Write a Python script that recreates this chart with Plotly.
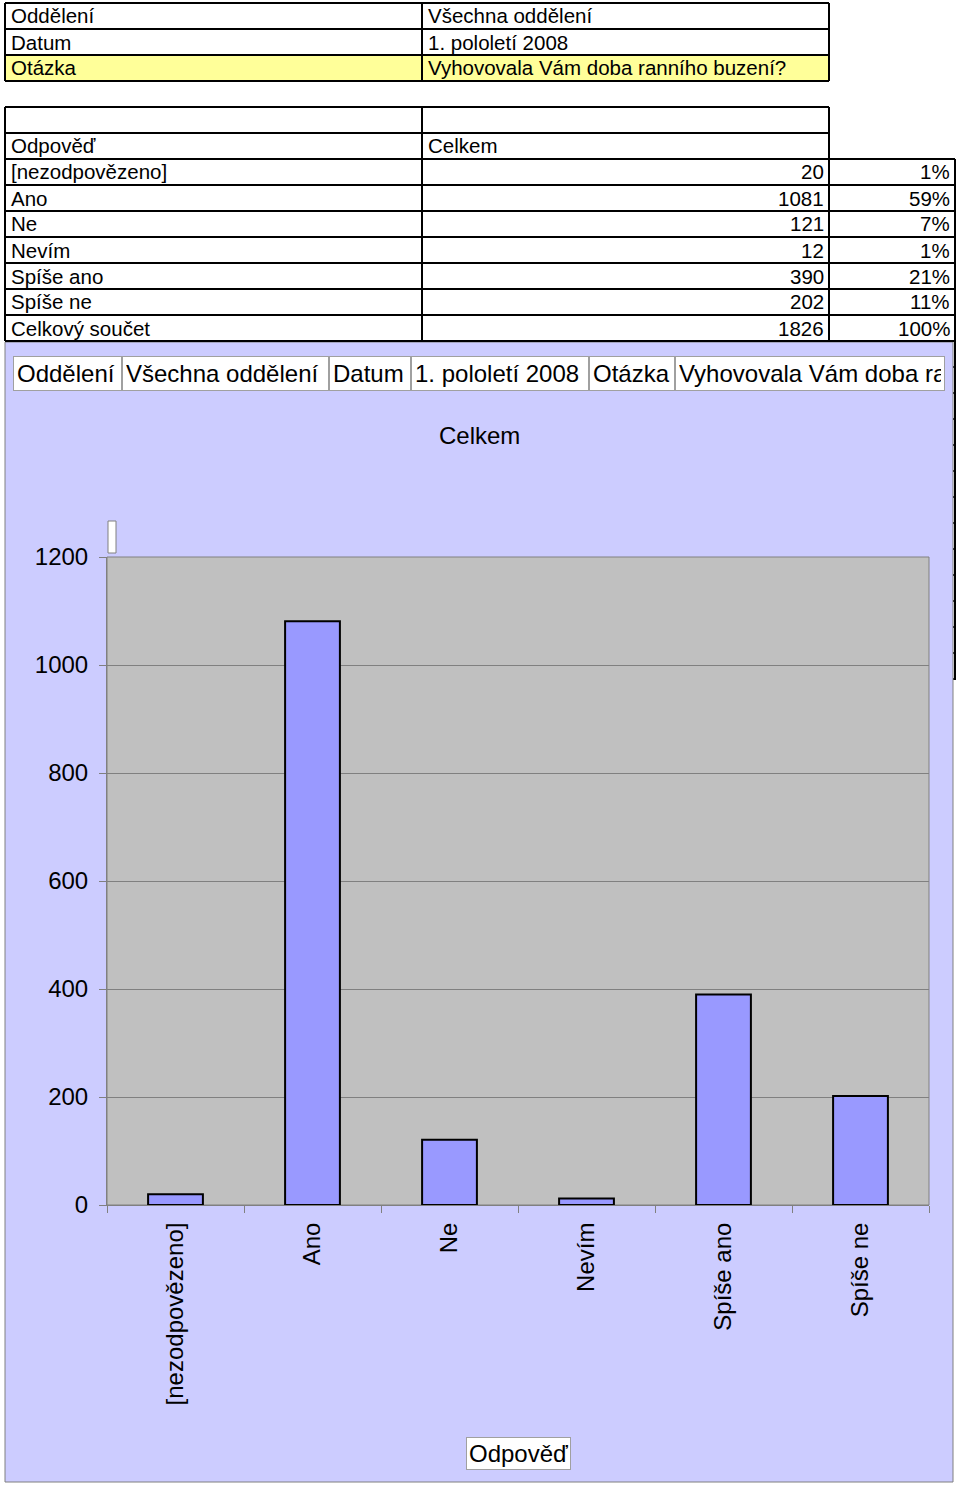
import plotly.graph_objects as go

W, H = 960, 1486
FONT = "Liberation Sans, Arial, sans-serif"

# data read from the sheet
answers = ["[nezodpovězeno]", "Ano", "Ne", "Nevím", "Spíše ano", "Spíše ne"]
counts = [20, 1081, 121, 12, 390, 202]
shares = ["1%", "59%", "7%", "1%", "21%", "11%"]
total_label = "Celkový součet"
total_count = 1826
total_share = "100%"

info_labels = ["Oddělení", "Datum", "Otázka"]
info_values = ["Všechna oddělení", "1. pololetí 2008", "Vyhovovala Vám doba ranního buzení?"]

col_header = "Odpověď"
series_name = "Celkem"
y_ticks = [0, 200, 400, 600, 800, 1000, 1200]


def px(x):
    return x / W


def py(y):
    return 1 - y / H


shapes = []
annotations = []


def line(x0, y0, x1, y1, color="black", width=2, layer="above"):
    shapes.append(dict(type="line", xref="paper", yref="paper",
                       x0=px(x0), y0=py(y0), x1=px(x1), y1=py(y1),
                       line=dict(color=color, width=width), layer=layer))


def rect(x0, y0, x1, y1, fill, color=None, width=1, layer="below"):
    shapes.append(dict(type="rect", xref="paper", yref="paper",
                       x0=px(x0), y0=py(y0), x1=px(x1), y1=py(y1),
                       fillcolor=fill,
                       line=dict(color=color or fill, width=width if color else 0),
                       layer=layer))


def text(x, y, s, anchor="left", size=20.5):
    annotations.append(dict(xref="paper", yref="paper", x=px(x), y=py(y),
                             text=s, showarrow=False, xanchor=anchor, yanchor="middle",
                             borderpad=0,
                             font=dict(family=FONT, size=size, color="black")))


# ---- spreadsheet part ----
ROW = 26
# info table
rect(5, 55, 829, 81, "#ffff99")
for i, (lab, val) in enumerate(zip(info_labels, info_values)):
    yc = 3 + ROW * i + ROW / 2
    text(10, yc, lab)
    text(427, yc, val)
for y in [3, 29, 55, 81]:
    line(5, y, 829, y)
for x in [5, 422, 829]:
    line(x, 3, x, 81)

# pivot table
top = 107
text(10, top + ROW * 1.5, col_header)
text(427, top + ROW * 1.5, series_name)
rows = list(zip(answers, counts, shares)) + [(total_label, total_count, total_share)]
for i, (a, c, s) in enumerate(rows):
    yc = top + ROW * (2 + i) + ROW / 2
    text(10, yc, a)
    text(825, yc, str(c), anchor="right")
    text(951, yc, s, anchor="right")
bottom = top + ROW * (2 + len(rows))
line(5, top, 829, top)
line(5, top + ROW, 829, top + ROW)
for k in range(len(rows) + 1):
    y = top + ROW * (2 + k)
    line(5, y, 955, y)
for x in [5, 422, 829]:
    line(x, top, x, bottom)
line(955, top + 2 * ROW, 955, bottom)

# sheet grid peeking out behind the chart on the right
line(955, bottom, 955, 680, layer="below")
y = bottom + ROW
while y < 680:
    line(829, y, 955, y, width=2, layer="below")
    y += ROW

# ---- chart object ----
rect(5, 342, 953, 1482, "#ccccff", color="#808080", width=1)
rect(107, 557, 929, 1205, "#c0c0c0", color="#808080", width=1)
rect(108, 521, 116, 553, "white", color="#808080", width=1)

# header cells inside chart
cell_w = [109, 207, 82, 178, 86, 270]
cells = [v for pair in zip(info_labels, info_values) for v in pair]
x0 = 13
for w, s in zip(cell_w, cells):
    annotations.append(dict(xref="paper", yref="paper", x=px(x0), y=py(373.5),
                            text=s, showarrow=False, xanchor="left", yanchor="middle",
                            align="left", width=w - 8, height=27, borderpad=3,
                            bgcolor="white", bordercolor="#a0a0a0", borderwidth=1,
                            font=dict(family=FONT, size=24, color="black")))
    x0 += w

text(479, 435, series_name, anchor="center", size=24)
annotations.append(dict(xref="paper", yref="paper", x=px(518), y=py(1453.5),
                        text=col_header, showarrow=False, xanchor="center", yanchor="middle",
                        bgcolor="white", bordercolor="#a0a0a0", borderwidth=1, borderpad=2,
                        font=dict(family=FONT, size=24, color="black")))

fig = go.Figure(go.Bar(
    x=answers, y=counts, width=0.4,
    marker=dict(color="#9999ff", line=dict(color="black", width=2)),
    showlegend=False,
))

fig.update_layout(
    width=W, height=H,
    margin=dict(l=0, r=0, t=0, b=0, pad=0, autoexpand=False),
    paper_bgcolor="white",
    plot_bgcolor="rgba(0,0,0,0)",
    font=dict(family=FONT, size=24, color="black"),
    shapes=shapes,
    annotations=annotations,
    xaxis=dict(domain=[px(107), px(929)], type="category", range=[-0.5, 5.5],
               tickson="boundaries", ticks="outside", ticklen=7, tickcolor="#808080",
               showline=True, linecolor="#808080", showgrid=False,
               tickangle=-90, tickfont=dict(size=24), ticklabelstandoff=7),
    yaxis=dict(domain=[py(1205), py(557)], range=[0, 1200], tickvals=y_ticks,
               ticks="outside", ticklen=7, tickcolor="#808080",
               showline=True, linecolor="#808080", showgrid=True, gridcolor="#808080",
               zeroline=False, tickfont=dict(size=24), ticklabelstandoff=6),
)

# page body margin would shift the figure off the photographed window
fig.write_html("out.html", config={"displayModeBar": False},
               post_script="document.body.style.margin='0';")
